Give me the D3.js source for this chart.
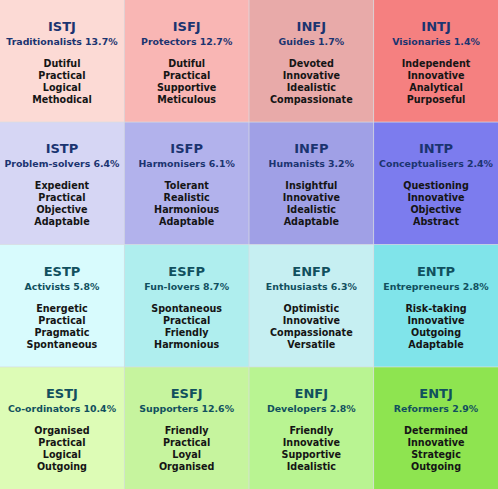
<!DOCTYPE html>
<html><head><meta charset="utf-8">
<script src="https://cdn.jsdelivr.net/npm/d3@7"></script>
<style>body{margin:0;background:#d8dce0}</style></head>
<body><svg id="chart" width="498" height="489"></svg>
<script>
const types = ["ISTJ","ISFJ","INFJ","INTJ","ISTP","ISFP","INFP","INTP","ESTP","ESFP","ENFP","ENTP","ESTJ","ESFJ","ENFJ","ENTJ"];
const roles = ["Traditionalists","Protectors","Guides","Visionaries","Problem-solvers","Harmonisers","Humanists","Conceptualisers","Activists","Fun-lovers","Enthusiasts","Entrepreneurs","Co-ordinators","Supporters","Developers","Reformers"];
const shares = [13.7,12.7,1.7,1.4,6.4,6.1,3.2,2.4,5.8,8.7,6.3,2.8,10.4,12.6,2.8,2.9];
const traits = [
  ["Dutiful","Practical","Logical","Methodical"],
  ["Dutiful","Practical","Supportive","Meticulous"],
  ["Devoted","Innovative","Idealistic","Compassionate"],
  ["Independent","Innovative","Analytical","Purposeful"],
  ["Expedient","Practical","Objective","Adaptable"],
  ["Tolerant","Realistic","Harmonious","Adaptable"],
  ["Insightful","Innovative","Idealistic","Adaptable"],
  ["Questioning","Innovative","Objective","Abstract"],
  ["Energetic","Practical","Pragmatic","Spontaneous"],
  ["Spontaneous","Practical","Friendly","Harmonious"],
  ["Optimistic","Innovative","Compassionate","Versatile"],
  ["Risk-taking","Innovative","Outgoing","Adaptable"],
  ["Organised","Practical","Logical","Outgoing"],
  ["Friendly","Practical","Loyal","Organised"],
  ["Friendly","Innovative","Supportive","Idealistic"],
  ["Determined","Innovative","Strategic","Outgoing"]
];
const fills = ["#fcdad5","#f9b6b4","#e8aaa9","#f58080",
               "#d6d6f4","#b2b2ec","#a0a0e6","#7c7cee",
               "#d8fbfd","#afeeee","#c6eff2","#80e4ea",
               "#ddfcb6","#c6f49e","#b9f492","#8ee450"];
const headColors = ["#1b3470","#1b3470","#11505e","#11505e"];

const W = 498, H = 489;
const x = d3.scaleBand().domain(d3.range(4)).range([0, W]).paddingInner(0.006);
const y = d3.scaleBand().domain(d3.range(4)).range([0, H]).paddingInner(0.006);
const svg = d3.select("#chart");
const data = types.map((t, i) => ({t, role: roles[i], share: shares[i], traits: traits[i], fill: fills[i], col: i % 4, row: Math.floor(i / 4)}));

const cell = svg.selectAll("g.cell").data(data).join("g")
  .attr("class", "cell")
  .attr("transform", d => `translate(${x(d.col)},${y(d.row)})`)
  .style("font-family", "Verdana, 'DejaVu Sans', sans-serif")
  .style("font-weight", "bold")
  .attr("text-anchor", "middle");

cell.append("rect").attr("width", x.bandwidth()).attr("height", y.bandwidth()).attr("fill", d => d.fill);
const cx = x.bandwidth() / 2;
cell.append("text").attr("x", cx).attr("y", 31).attr("font-size", 13)
  .attr("fill", d => headColors[d.row]).text(d => d.t);
cell.append("text").attr("x", cx).attr("y", 45).attr("font-size", 9.4)
  .attr("fill", d => headColors[d.row]).text(d => `${d.role} ${d.share}%`);
cell.selectAll("text.tr").data(d => d.traits).join("text").attr("class", "tr")
  .attr("x", cx).attr("y", (d, i) => 67 + i * 12).attr("font-size", 9.6)
  .attr("fill", "#151515").text(d => d);
</script></body></html>
